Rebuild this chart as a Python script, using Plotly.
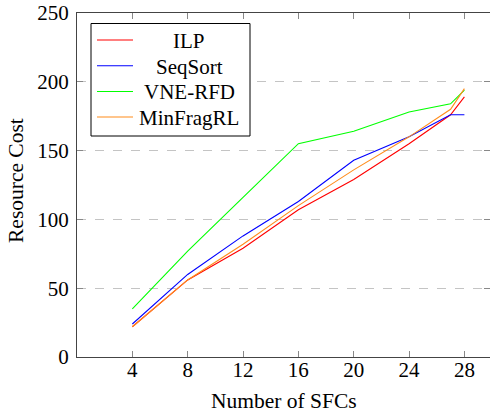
import plotly.graph_objects as go

# ---- data ----
sfcs = [4, 8, 12, 16, 20, 24, 27, 28]
ilp = [22, 56, 79, 107, 129, 155, 176, 189]
seqsort = [24, 60, 88, 113, 143, 160, 176, 176]
vne_rfd = [35, 77, 116, 155, 164, 178, 184, 194]
minfragrl = [22, 56, 82, 110, 136, 160, 180, 195]

series_names = ["ILP", "SeqSort", "VNE-RFD", "MinFragRL"]
series_values = [ilp, seqsort, vne_rfd, minfragrl]
series_colors = ["#ff0000", "#0000ff", "#00ff00", "#ff8c1a"]

x_ticks = [4, 8, 12, 16, 20, 24, 28]
y_ticks = [0, 50, 100, 150, 200, 250]

FONT = "Liberation Serif"
W, H = 490, 416
ML, MR, MT, MB = 77, 0, 13, 59
PW, PH = W - ML - MR, H - MT - MB


def px_x(px):
    return (px - ML) / PW


def px_y(py):
    return (H - MB - py) / PH


fig = go.Figure()
for name, vals, col in zip(series_names, series_values, series_colors):
    fig.add_trace(go.Scatter(x=sfcs, y=vals, mode="lines", name=name,
                             line=dict(color=col, width=1.1), showlegend=False,
                             hoverinfo="skip"))

axis_common = dict(
    showline=True, linecolor="#444444", linewidth=1, mirror="ticks",
    ticks="inside", ticklen=6, tickcolor="#888888", tickwidth=1,
    tickfont=dict(family=FONT, size=21, color="black"),
    zeroline=False,
)

fig.update_xaxes(range=[0, 29.85], tickvals=x_ticks, showgrid=False,
                 ticklabelstandoff=-6, **axis_common)
fig.update_yaxes(range=[0, 250], tickvals=y_ticks, showgrid=True,
                 gridcolor="#c4c4c4", gridwidth=1, griddash="dash",
                 ticklabelstandoff=3, **axis_common)

# ---- legend drawn manually (centered text like the reference) ----
shapes = [dict(type="rect", xref="paper", yref="paper",
               x0=px_x(91), x1=px_x(250), y0=px_y(136), y1=px_y(23.5),
               line=dict(color="black", width=1), fillcolor="white", layer="above")]
annotations = []
ys = [40, 65.7, 91.5, 117]
for name, col, yy in zip(series_names, series_colors, ys):
    shapes.append(dict(type="line", xref="paper", yref="paper",
                       x0=px_x(97), x1=px_x(133), y0=px_y(yy), y1=px_y(yy),
                       line=dict(color=col, width=1.1), layer="above"))
    annotations.append(dict(xref="paper", yref="paper", x=px_x(189), y=px_y(yy + 1),
                            text=name, showarrow=False, xanchor="center", yanchor="middle",
                            font=dict(family=FONT, size=21, color="black")))

annotations.append(dict(xref="paper", yref="paper", x=px_x(284), y=px_y(401),
                        text="Number of SFCs", showarrow=False, xanchor="center",
                        yanchor="middle", font=dict(family=FONT, size=21.5, color="black")))
annotations.append(dict(xref="paper", yref="paper", x=px_x(16), y=px_y(181),
                        text="Resource Cost", showarrow=False, xanchor="center",
                        yanchor="middle", textangle=-90,
                        font=dict(family=FONT, size=21.5, color="black")))

fig.update_layout(
    width=W, height=H,
    margin=dict(l=ML, r=MR, t=MT, b=MB),
    paper_bgcolor="white", plot_bgcolor="white",
    shapes=shapes, annotations=annotations,
    font=dict(family=FONT, size=21, color="black"),
    showlegend=False,
)

fig.write_html("out.html", config={"displayModeBar": False},
               post_script="document.body.style.margin='0px';document.body.style.padding='0px';")
